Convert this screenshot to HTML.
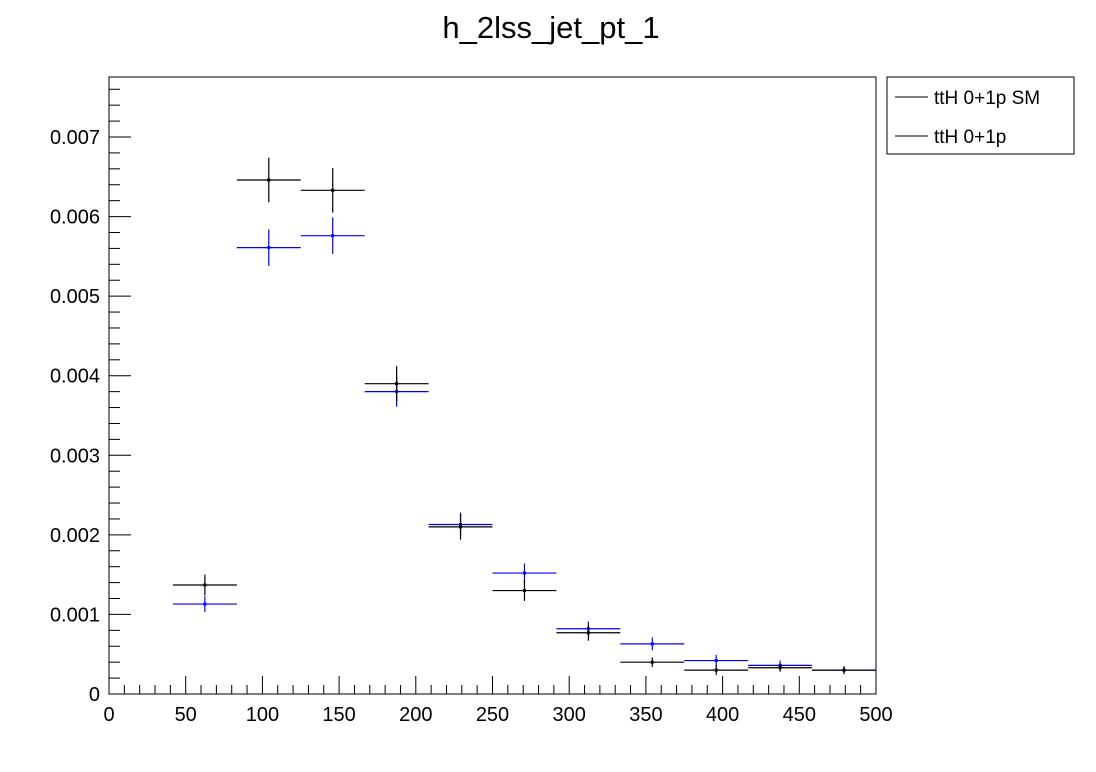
<!DOCTYPE html>
<html><head><meta charset="utf-8"><style>
body{margin:0;background:#fff;}
svg{display:block;font-family:"Liberation Sans",sans-serif;}
</style></head><body>
<svg id="c" width="1096" height="772">
<rect width="1096" height="772" fill="#fff"/>
<text x="551" y="38" font-size="31" text-anchor="middle">h_2lss_jet_pt_1</text>
<rect x="109" y="77" width="767" height="617" fill="none" stroke="#000"/>
<g id="ax"></g><g id="marks"></g>
<g>
<rect x="887" y="77" width="187" height="77" fill="#fff" stroke="#000"/>
<line x1="895" y1="97" x2="928" y2="97" stroke="#000"/>
<text x="934" y="104" font-size="19">ttH 0+1p SM</text>
<line x1="895" y1="136" x2="928" y2="136" stroke="#000"/>
<text x="934" y="143" font-size="19">ttH 0+1p</text>
</g>
</svg>
<script>
const binLow=[41.67,83.33,125,166.67,208.33,250,291.67,333.33,375,416.67,458.33];
const binWidth=41.667;
const smValues=[0.00137,0.00646,0.00633,0.0039,0.0021,0.0013,0.00077,0.0004,0.0003,0.00033,0.0003];
const smErrors=[0.00013,0.00028,0.00028,0.00022,0.00016,0.00013,0.0001,0.00006,0.00006,0.00005,0.00005];
const bsmValues=[0.00113,0.00561,0.00576,0.0038,0.00213,0.00152,0.00082,0.00063,0.00042,0.00036,0.0003];
const bsmErrors=[0.0001,0.00023,0.00023,0.00019,0.00015,0.00012,0.00009,0.00008,0.00007,0.00006,0.00005];
const xTicks=[0,50,100,150,200,250,300,350,400,450,500];
const yTicks=[0,0.001,0.002,0.003,0.004,0.005,0.006,0.007];
const yTickLabels=["0","0.001","0.002","0.003","0.004","0.005","0.006","0.007"];
const NS="http://www.w3.org/2000/svg";
const X=v=>109+v*(767/500);
const Y=v=>694-v*(557/0.007);
function mk(p,tag,a){const e=document.createElementNS(NS,tag);for(const k in a)e.setAttribute(k,a[k]);p.appendChild(e);return e;}
const ax=document.getElementById('ax');
for(let v=0;v<=500;v+=10){const maj=v%50===0;
 const t=mk(ax,'line',{x1:X(v),x2:X(v),y1:694,y2:694-(maj?18:9),stroke:'#000'});
 
 }
xTicks.forEach(v=>{const t=mk(ax,'text',{x:X(v),y:721,'font-size':20,'text-anchor':'middle'});t.textContent=v;
 
 });
for(let i=0;i<=38;i++){const v=i*0.0002;const maj=i%5===0;
 const t=mk(ax,'line',{x1:109,x2:109+(maj?22:11),y1:Y(v),y2:Y(v),stroke:'#000'});
 
 }
yTicks.forEach((v,i)=>{const t=mk(ax,'text',{x:100,y:Y(v)+7,'font-size':20,'text-anchor':'end'});t.textContent=yTickLabels[i];
 
 });
const mg=document.getElementById('marks');
function series(vals,errs,col,name){
 vals.forEach((v,i)=>{const g=mk(mg,'g',{stroke:col,'stroke-width':1.2});
  
  
  const c=binLow[i]+binWidth/2;
  mk(g,'line',{x1:X(binLow[i]),x2:Math.min(X(binLow[i]+binWidth),876),y1:Y(v),y2:Y(v)});
  mk(g,'line',{x1:X(c),x2:X(c),y1:Y(v-errs[i]),y2:Y(v+errs[i])});
  mk(g,'rect',{x:X(c)-1.5,y:Y(v)-1.5,width:3,height:3,fill:col,stroke:'none'});
 });}
series(bsmValues,bsmErrors,'#0000ff','bsm');
series(smValues,smErrors,'#000','sm');
</script>
</body></html>
